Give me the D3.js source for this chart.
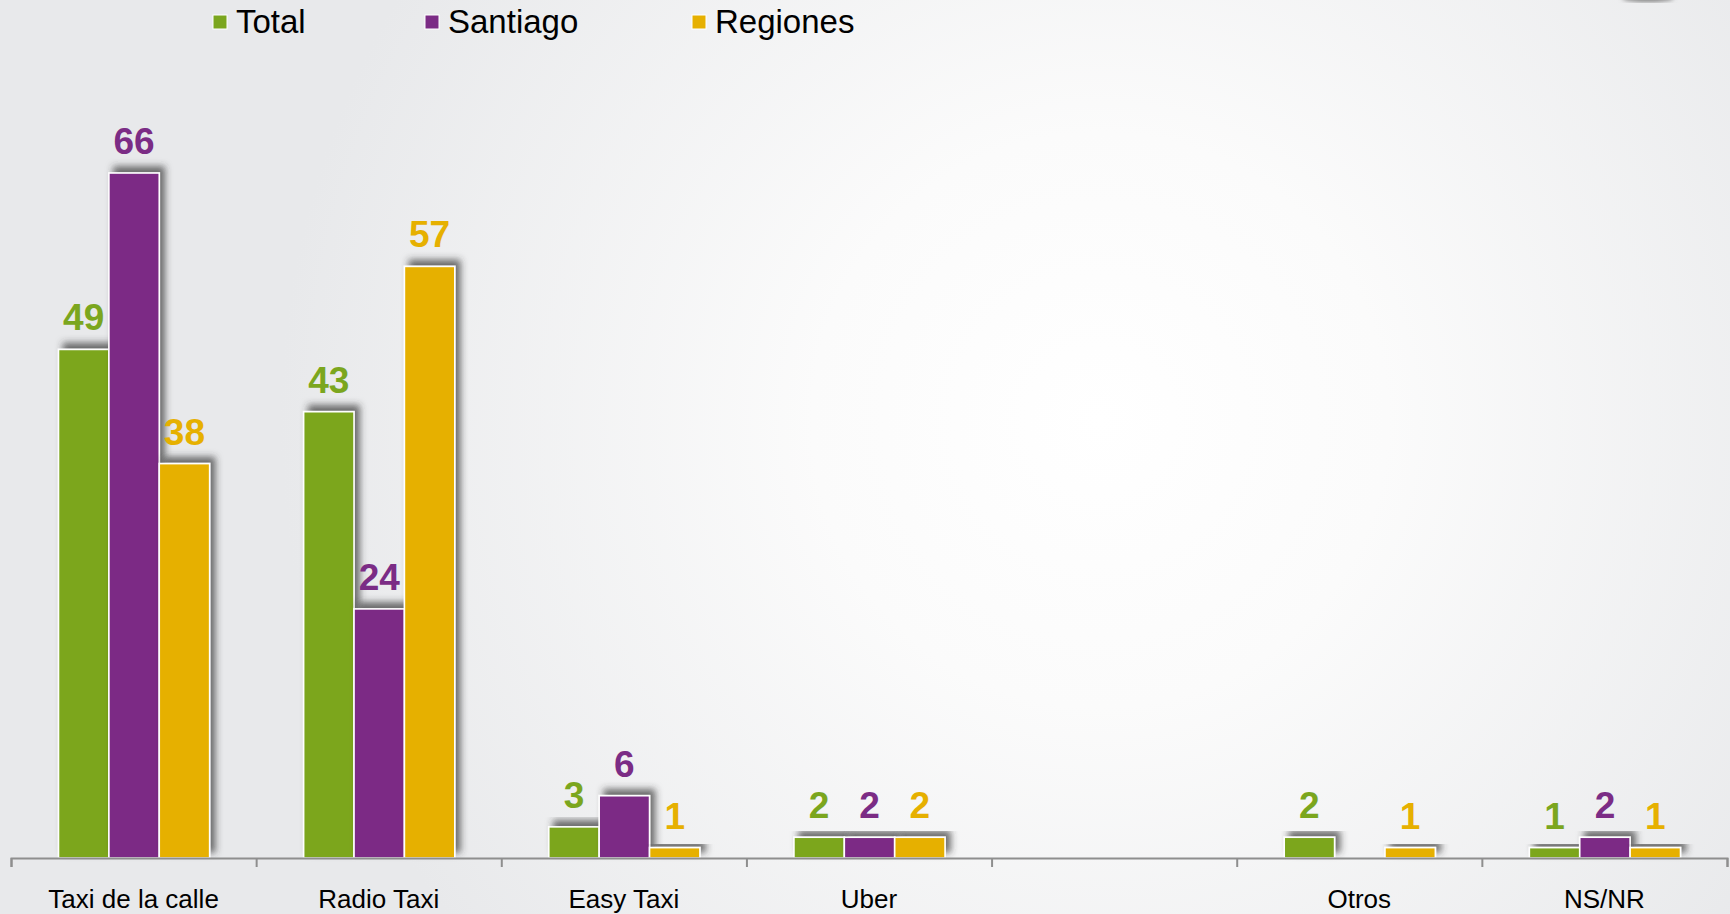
<!DOCTYPE html>
<html>
<head>
<meta charset="utf-8">
<script src="https://cdn.jsdelivr.net/npm/d3@7"></script>
<style>
  html, body { margin: 0; padding: 0; background: #e8e9eb; }
  svg { display: block; }
</style>
</head>
<body>
<svg id="chart"></svg>
<script>
const categories = ['Taxi de la calle', 'Radio Taxi', 'Easy Taxi', 'Uber', '', 'Otros', 'NS/NR']
const seriesNames = ['Total', 'Santiago', 'Regiones']
const total    = [49, 43, 3, 2, null, 2, 1]
const santiago = [66, 24, 6, 2, null, null, 2]
const regiones = [38, 57, 1, 2, null, 1, 1]

const colors = {
    Total: '#7ba61e',
    Santiago: '#7b2c85',
    Regiones: '#e6b000',
}

const W = 1730
const H = 914
const baseline = 858

const svg = d3.select('#chart').attr('width', W).attr('height', H)

const defs = svg.append('defs')
const bg = defs.append('radialGradient')
    .attr('id', 'bg')
    .attr('gradientUnits', 'userSpaceOnUse')
    .attr('cx', 1100).attr('cy', 420).attr('r', 820)
bg.append('stop').attr('offset', '0%').attr('stop-color', '#ffffff')
bg.append('stop').attr('offset', '35%').attr('stop-color', '#fbfbfb')
bg.append('stop').attr('offset', '100%').attr('stop-color', '#e8e9eb')

const shadow = defs.append('filter')
    .attr('id', 'shadow')
    .attr('x', '-30%').attr('y', '-30%').attr('width', '160%').attr('height', '160%')
shadow.append('feDropShadow')
    .attr('dx', 5).attr('dy', -6)
    .attr('stdDeviation', 3.5)
    .attr('flood-color', '#333')
    .attr('flood-opacity', 0.7)

const blur = defs.append('filter').attr('id', 'blur')
blur.append('feGaussianBlur').attr('stdDeviation', 2)

svg.append('rect').attr('width', W).attr('height', H).attr('fill', 'url(#bg)')

// small shade at the top right corner
svg.append('ellipse')
    .attr('cx', 1648).attr('cy', -2).attr('rx', 26).attr('ry', 4)
    .attr('fill', '#888').attr('filter', 'url(#blur)')

const data = categories.map((c, i) => ({
    category: c,
    values: [
        { key: 'Total', value: total[i] },
        { key: 'Santiago', value: santiago[i] },
        { key: 'Regiones', value: regiones[i] },
    ].filter(d => d.value != null),
}))

const x0 = d3.scaleBand()
    .domain(d3.range(categories.length))
    .range([11, 1727])

const x1 = d3.scaleBand()
    .domain(seriesNames)
    .range([47.5, x0.bandwidth() - 46.5])

const y = d3.scaleLinear()
    .domain([0, 66])
    .range([baseline, 173])

// bars
const groups = svg.append('g').selectAll('g')
    .data(data)
    .join('g')
    .attr('transform', (d, i) => `translate(${x0(i)},0)`)

groups.selectAll('rect')
    .data(d => d.values)
    .join('rect')
    .attr('x', d => x1(d.key))
    .attr('y', d => y(d.value))
    .attr('width', x1.bandwidth())
    .attr('height', d => baseline - y(d.value))
    .attr('fill', d => colors[d.key])
    .attr('stroke', '#ffffff')
    .attr('stroke-width', 1.6)
    .attr('filter', 'url(#shadow)')

groups.selectAll('text')
    .data(d => d.values)
    .join('text')
    .attr('x', d => x1(d.key) + x1.bandwidth() / 2)
    .attr('y', d => y(d.value) - 19)
    .attr('text-anchor', 'middle')
    .attr('font-family', 'Liberation Sans, Arial, sans-serif')
    .attr('font-weight', 'bold')
    .attr('font-size', 37)
    .attr('fill', d => colors[d.key])
    .text(d => d.value)

// axis with ticks at category boundaries
const xb = d3.scaleLinear().domain([0, categories.length]).range([11, 1727])
svg.append('g')
    .attr('transform', `translate(0,${baseline})`)
    .call(d3.axisBottom(xb).ticks(categories.length).tickSize(9).tickSizeOuter(9).tickFormat(''))
    .call(g => g.selectAll('path, line').attr('stroke', '#8e8e8e').attr('stroke-width', 2))

svg.append('g')
    .attr('transform', `translate(0,${baseline})`)
    .call(d3.axisBottom(x0).tickSize(0).tickPadding(32).tickFormat(i => categories[i]))
    .call(g => g.select('.domain').remove())
    .call(g => g.selectAll('text')
        .attr('font-family', 'Liberation Sans, Arial, sans-serif')
        .attr('font-size', 26)
        .attr('fill', '#000'))

// legend
const legendX = [213, 425, 692]
const legend = svg.append('g').selectAll('g')
    .data(seriesNames)
    .join('g')
    .attr('transform', (d, i) => `translate(${legendX[i]},0)`)

legend.append('rect')
    .attr('x', 0).attr('y', 15)
    .attr('width', 14).attr('height', 14)
    .attr('fill', d => colors[d])
    .attr('stroke', '#ffffff')
    .attr('stroke-width', 1)

legend.append('text')
    .attr('x', 23).attr('y', 33)
    .attr('font-family', 'Liberation Sans, Arial, sans-serif')
    .attr('font-size', 33)
    .attr('fill', '#000')
    .text(d => d)
</script>
</body>
</html>
